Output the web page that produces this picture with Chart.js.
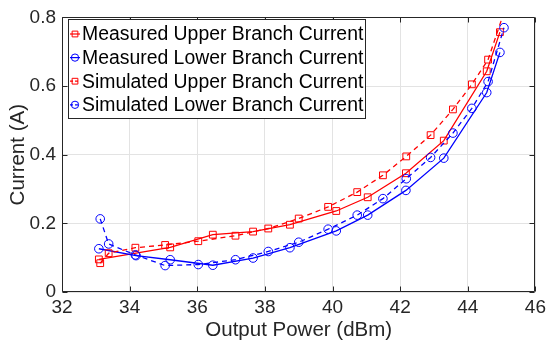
<!DOCTYPE html>
<html><head><meta charset="utf-8">
<script src="https://cdn.jsdelivr.net/npm/chart.js@4.4.1/dist/chart.umd.min.js"></script>
<style>html,body{margin:0;padding:0;background:#fff}#wrap{width:550px;height:348px;position:relative}</style>
</head><body><div id="wrap"><canvas id="c" width="550" height="348"></canvas></div>
<script>
// ---- data ----
const measuredPower  = [33.09, 34.19, 35.2, 36.46, 37.65, 38.74, 40.11, 41.04, 42.17, 43.29, 44.56, 44.95];
const measuredUpper  = [0.095, null, 0.130, 0.167, 0.176, 0.196, 0.236, 0.276, 0.346, 0.441, 0.643, 0.757];
const measuredLower  = [0.126, 0.106, 0.094, 0.078, 0.099, 0.129, 0.178, 0.224, 0.296, 0.390, 0.581, 0.698];
const simulatedPower = [33.13, 33.38, 34.17, 35.05, 36.03, 37.13, 38.1, 39.0, 39.87, 40.73, 41.49, 42.18, 42.9, 43.56, 44.12, 44.6, 45.07];
const simulatedUpper = [0.084, 0.113, 0.129, 0.137, 0.148, 0.164, 0.185, 0.214, 0.248, 0.291, 0.340, 0.395, 0.457, 0.532, 0.605, 0.677, 0.815];
const simulatedLower = [0.213, 0.140, 0.108, 0.077, 0.080, 0.094, 0.118, 0.145, 0.183, 0.224, 0.272, 0.330, 0.392, 0.463, 0.535, 0.613, 0.770];
const seriesNames = ['Measured Upper Branch Current', 'Measured Lower Branch Current', 'Simulated Upper Branch Current', 'Simulated Lower Branch Current'];
const xTicks = [32, 34, 36, 38, 40, 42, 44, 46];
const yTicks = [0, 0.2, 0.4, 0.6, 0.8];
const xTitle = 'Output Power (dBm)';
const yTitle = 'Current (A)';

const FONT = '"Liberation Sans", Arial, Helvetica, sans-serif';
const RED = '#ff0000', BLUE = '#0000ff', AXC = '#262626';
const DASH = [5, 4];

function pts(xs, ys) { return xs.map((x, i) => ({x: x, y: ys[i]})); }

function ds(label, xs, ys, color, style, dashed, order) {
  return {
    label: label, data: pts(xs, ys), borderColor: color, backgroundColor: 'rgba(0,0,0,0)',
    borderWidth: 1.3, borderDash: dashed ? DASH : [], pointStyle: style,
    pointRadius: style === 'rect' ? 4.8 : 4.3, pointBorderWidth: 1, pointBorderColor: color,
    pointBackgroundColor: 'rgba(0,0,0,0)', pointHoverRadius: 0, tension: 0, spanGaps: true,
    order: order, _dashed: dashed
  };
}

const datasets = [
  ds(seriesNames[0], measuredPower, measuredUpper, RED, 'rect', false, 3),
  ds(seriesNames[1], measuredPower, measuredLower, BLUE, 'circle', false, 2),
  ds(seriesNames[2], simulatedPower, simulatedUpper, RED, 'rect', true, 1),
  ds(seriesNames[3], simulatedPower, simulatedLower, BLUE, 'circle', true, 0)
];

const boxPlugin = {
  id: 'boxTicks',
  afterDraw(chart) {
    const ctx = chart.ctx, a = chart.chartArea, xs = chart.scales.x, ys = chart.scales.y;
    ctx.save();
    ctx.strokeStyle = AXC; ctx.lineWidth = 1;
    const L = Math.round(a.left) + 0.5, R = Math.round(a.right) - 0.5, T = Math.round(a.top) + 0.5, B = Math.round(a.bottom) - 0.5;
    ctx.beginPath(); ctx.rect(L, T, R - L, B - T); ctx.stroke();
    const tl = 5;
    ctx.beginPath();
    xTicks.forEach(v => { const px = Math.round(xs.getPixelForValue(v)) + 0.5; ctx.moveTo(px, B); ctx.lineTo(px, B - tl); ctx.moveTo(px, T); ctx.lineTo(px, T + tl); });
    yTicks.forEach(v => { const py = Math.round(ys.getPixelForValue(v)) + 0.5; ctx.moveTo(L, py); ctx.lineTo(L + tl, py); ctx.moveTo(R, py); ctx.lineTo(R - tl, py); });
    ctx.stroke();
    // legend
    const lx = 68.5, ly = 19.5, lw = 297, lh = 99, rowH = 23.6;
    ctx.fillStyle = '#fff'; ctx.fillRect(lx, ly, lw, lh);
    ctx.strokeStyle = AXC; ctx.strokeRect(lx, ly, lw, lh);
    ctx.font = '19.4px ' + FONT; ctx.textBaseline = 'middle'; ctx.textAlign = 'left';
    chart.data.datasets.forEach((d, i) => {
      const cy = ly + 14.5 + i * rowH, cx = 75;
      ctx.strokeStyle = d.borderColor; ctx.lineWidth = 1.2; ctx.setLineDash(d._dashed ? [3, 2] : []);
      ctx.beginPath(); ctx.moveTo(cx - 5, cy); ctx.lineTo(cx + 5, cy); ctx.stroke();
      ctx.setLineDash([]); ctx.lineWidth = 1;
      ctx.fillStyle = 'rgba(0,0,0,0)';
      Chart.helpers.drawPoint(ctx, {pointStyle: d.pointStyle, radius: d.pointRadius * 0.85, borderWidth: 1}, cx, cy);
      ctx.fillStyle = '#000'; ctx.fillText(d.label, 82, cy + 1);
    });
    ctx.restore();
  }
};

new Chart(document.getElementById('c'), {
  type: 'line',
  data: { datasets: datasets },
  plugins: [boxPlugin],
  options: {
    responsive: false, animation: false, events: [],
    layout: { padding: { top: 14, right: 11, left: 0, bottom: 0 } },
    plugins: { legend: { display: false }, tooltip: { enabled: false } },
    scales: {
      x: {
        type: 'linear', min: xTicks[0], max: xTicks[xTicks.length - 1],
        afterBuildTicks: s => { s.ticks = xTicks.map(v => ({value: v})); },
        afterFit: s => { s.height = 56; },
        ticks: { font: { family: FONT, size: 19 }, color: AXC, padding: 4, maxRotation: 0, callback: v => String(v) },
        grid: { color: '#e3e3e3', lineWidth: 1, drawTicks: false },
        border: { display: false },
        title: { display: true, text: xTitle, font: { family: FONT, size: 20.5 }, color: AXC, padding: { top: 0, bottom: 5 } }
      },
      y: {
        type: 'linear', min: yTicks[0], max: yTicks[yTicks.length - 1],
        afterBuildTicks: s => { s.ticks = yTicks.map(v => ({value: v})); },
        afterFit: s => { s.width = 62; },
        ticks: { font: { family: FONT, size: 19 }, color: AXC, padding: 6, callback: v => String(Number(v.toFixed(1))) },
        grid: { color: '#e3e3e3', lineWidth: 1, drawTicks: false },
        border: { display: false },
        title: { display: true, text: yTitle, font: { family: FONT, size: 20.5 }, color: AXC, padding: { top: 6, bottom: 0 } }
      }
    }
  }
});
</script></body></html>
